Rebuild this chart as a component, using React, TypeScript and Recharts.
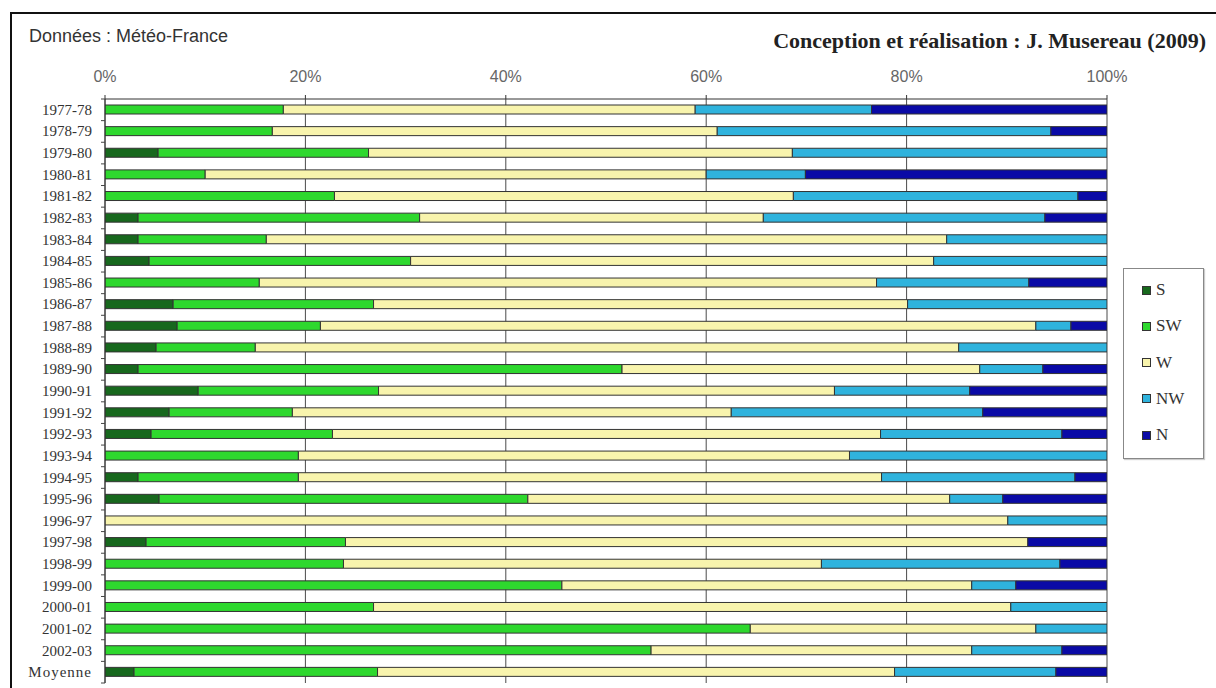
import { Bar, BarChart, CartesianGrid, XAxis, YAxis } from "recharts";

const seasons = [
  "1977-78", "1978-79", "1979-80", "1980-81", "1981-82", "1982-83", "1983-84",
  "1984-85", "1985-86", "1986-87", "1987-88", "1988-89", "1989-90", "1990-91",
  "1991-92", "1992-93", "1993-94", "1994-95", "1995-96", "1996-97", "1997-98",
  "1998-99", "1999-00", "2000-01", "2001-02", "2002-03", "Moyenne",
];

// part (%) de chaque secteur de vent
const S = [0, 0, 5.3, 0, 0, 3.3, 3.3, 4.4, 0, 6.8, 7.2, 5.1, 3.3, 9.3, 6.4, 4.6, 0, 3.3, 5.4, 0, 4.1, 0, 0, 0, 0, 0, 2.9];
const SW = [17.8, 16.7, 21.0, 10.0, 22.9, 28.1, 12.8, 26.1, 15.4, 20.0, 14.3, 9.9, 48.3, 18.0, 12.3, 18.1, 19.3, 16.0, 36.8, 0, 19.9, 23.8, 45.6, 26.8, 64.4, 54.5, 24.3];
const W = [41.1, 44.4, 42.3, 50.0, 45.8, 34.3, 67.9, 52.2, 61.6, 53.3, 71.4, 70.2, 35.7, 45.5, 43.8, 54.7, 55.0, 58.2, 42.1, 90.1, 68.1, 47.7, 40.9, 63.6, 28.5, 32.0, 51.6];
const NW = [17.6, 33.3, 31.4, 9.9, 28.4, 28.1, 16.0, 17.3, 15.2, 19.9, 3.5, 14.8, 6.3, 13.5, 25.1, 18.1, 25.7, 19.3, 5.3, 9.9, 0, 23.8, 4.4, 9.6, 7.1, 9.0, 16.1];
const N = [23.5, 5.6, 0, 30.1, 2.9, 6.2, 0, 0, 7.8, 0, 3.6, 0, 6.4, 13.7, 12.4, 4.5, 0, 3.2, 10.4, 0, 7.9, 4.7, 9.1, 0, 0, 4.5, 5.1];

const xTicks = [0, 20, 40, 60, 80, 100];

const series = [
  { key: "S", color: "#17681d" },
  { key: "SW", color: "#2ed82e" },
  { key: "W", color: "#f8f4ad" },
  { key: "NW", color: "#2fb3dd" },
  { key: "N", color: "#0a0aa6" },
];

const data = seasons.map((name, i) => ({
  name,
  S: S[i],
  SW: SW[i],
  W: W[i],
  NW: NW[i],
  N: N[i],
}));

const WIDTH = 1216;
const HEIGHT = 688;
const MARGIN = { top: 69, right: 109, bottom: 5, left: 5 };
const X_AXIS_H = 30;
const Y_AXIS_W = 100;
const Y_TICK_MARGIN = 13;
const PLOT_H = HEIGHT - MARGIN.top - MARGIN.bottom - X_AXIS_H;
const BAND = PLOT_H / seasons.length;

const YTick = (props: any) => {
  const { x, y, payload, index } = props;
  const axisX = x + Y_TICK_MARGIN;
  const half = BAND / 2;
  const isMean = payload.value === "Moyenne";
  return (
    <g>
      <text
        x={x}
        y={y}
        dy={5}
        textAnchor="end"
        fontFamily="Liberation Serif"
        fontSize={15}
        letterSpacing={isMean ? 1 : 0}
        fill="#333"
      >
        {payload.value}
      </text>
      <line x1={axisX - 4} x2={axisX} y1={y - half} y2={y - half} stroke="#444" />
      {index === seasons.length - 1 && (
        <line x1={axisX - 4} x2={axisX} y1={y + half} y2={y + half} stroke="#444" />
      )}
    </g>
  );
};

export default function App() {
  return (
    <div
      style={{
        position: "fixed",
        left: 0,
        top: 0,
        width: WIDTH,
        height: HEIGHT,
        overflow: "hidden",
        background: "#fff",
      }}
    >
      <div
        style={{
          position: "absolute",
          left: 10,
          top: 12,
          width: 1400,
          height: 900,
          borderTop: "2px solid #111",
          borderLeft: "2px solid #111",
        }}
      />
      <div
        style={{
          position: "absolute",
          left: 29,
          top: 26,
          fontFamily: "Liberation Sans",
          fontSize: 18,
          color: "#333",
          whiteSpace: "nowrap",
        }}
      >
        Données : Météo-France
      </div>
      <div
        style={{
          position: "absolute",
          right: 10,
          top: 28,
          fontFamily: "Liberation Serif",
          fontWeight: "bold",
          fontSize: 22,
          color: "#222",
          whiteSpace: "nowrap",
        }}
      >
        Conception et réalisation : J. Musereau (2009)
      </div>

      <div style={{ position: "absolute", left: 0, top: 0 }}>
        <BarChart
          width={WIDTH}
          height={HEIGHT}
          data={data}
          layout="vertical"
          margin={MARGIN}
          barSize={9}
        >
          <CartesianGrid vertical horizontal={false} stroke="#4a4a4a" />
          <XAxis
            type="number"
            orientation="top"
            domain={[0, 100]}
            ticks={xTicks}
            height={X_AXIS_H}
            tickFormatter={(v) => `${v}%`}
            tick={{ fill: "#666", fontSize: 16, fontFamily: "Liberation Sans" }}
            tickSize={4}
            tickMargin={13}
            axisLine={{ stroke: "#333" }}
            tickLine={{ stroke: "#333" }}
            allowDataOverflow
          />
          <YAxis
            type="category"
            dataKey="name"
            width={Y_AXIS_W}
            tickSize={0}
            tickMargin={Y_TICK_MARGIN}
            tick={<YTick />}
            axisLine={{ stroke: "#333" }}
            tickLine={false}
            interval={0}
          />
          {series.map((s) => (
            <Bar
              key={s.key}
              dataKey={s.key}
              stackId="a"
              fill={s.color}
              stroke="#333"
              strokeWidth={1}
              isAnimationActive={false}
            />
          ))}
        </BarChart>
      </div>

      <div
        style={{
          position: "absolute",
          left: 1123,
          top: 268,
          width: 79,
          height: 189,
          border: "1px solid #888",
          boxShadow: "1px 1px 1px #ccc",
          background: "#fff",
        }}
      >
        {series.map((s, i) => (
          <div
            key={s.key}
            style={{
              position: "absolute",
              left: 18,
              top: 10 + i * 36.3,
              height: 22,
              display: "flex",
              alignItems: "center",
              fontFamily: "Liberation Serif",
              fontSize: 17,
              color: "#333",
            }}
          >
            <span
              style={{
                display: "inline-block",
                width: 7,
                height: 7,
                background: s.color,
                border: "1px solid #333",
                marginRight: 5,
              }}
            />
            {s.key}
          </div>
        ))}
      </div>
    </div>
  );
}
